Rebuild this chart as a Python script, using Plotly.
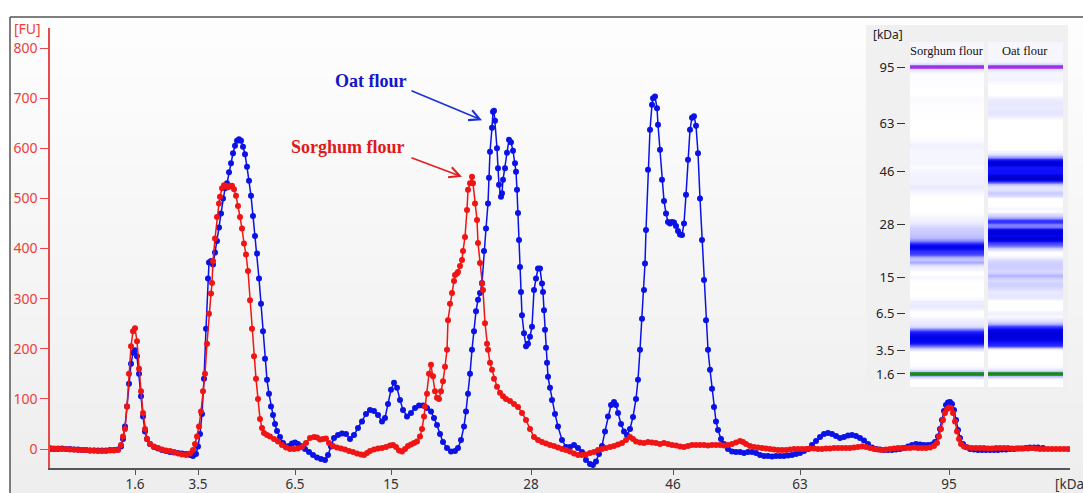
import plotly.graph_objects as go

# size markers on the kDa scale and their positions along the migration axis
kda_labels = ["1.6", "3.5", "6.5", "15", "28", "46", "63", "95"]
kda_pos = [135, 198, 295, 391, 531, 673, 800, 949]

# electropherogram readings: (migration position, fluorescence units)
oat = [
    (50, 0), (54, 0), (58, 0), (62, 1), (66, 0), (70, 0), (74, -1), (78, -1), (82, -2), (86, -2),
    (90, -3), (94, -3), (98, -3), (102, -3), (106, -3), (110, -2), (114, -2), (118, -1),
    (121, 5), (123, 20), (125, 45), (127, 85), (129, 130), (131, 170), (133, 192), (135, 197),
    (137, 185), (139, 150), (141, 105), (143, 65), (145, 35), (147, 20), (150, 10), (154, 4),
    (158, 1), (162, -2), (166, -4), (170, -6), (174, -7), (178, -8), (182, -9), (186, -10),
    (190, -12), (193, -14), (196, -10), (198, 5), (200, 30), (202, 70), (204, 140), (206, 240),
    (208, 340), (209, 372), (211, 375), (213, 368), (215, 392), (217, 415), (219, 442), (221, 470),
    (223, 500), (225, 520), (227, 530), (229, 552), (231, 570), (233, 590), (235, 605), (237, 615),
    (239, 618), (241, 615), (243, 603), (245, 588), (247, 563), (249, 535), (251, 505), (253, 465),
    (255, 425), (257, 390), (259, 340), (261, 290), (263, 235), (265, 180), (267, 138), (269, 110),
    (271, 85), (273, 68), (275, 50), (277, 36), (280, 24), (283, 12), (286, 5), (289, 6), (292, 11),
    (295, 13), (298, 10), (301, 6), (305, 0), (309, -6), (313, -12), (317, -17), (321, -20),
    (325, -22), (328, -12), (331, 5), (334, 22), (338, 28), (342, 31), (346, 30), (350, 20),
    (354, 28), (358, 42), (362, 55), (366, 70), (370, 78), (374, 76), (378, 68), (382, 55),
    (385, 62), (388, 90), (391, 118), (394, 132), (397, 122), (400, 98), (403, 78), (407, 65),
    (411, 72), (415, 82), (419, 87), (423, 87), (427, 82), (431, 75), (434, 62), (437, 48),
    (440, 30), (443, 14), (447, 2), (451, -5), (455, -4), (458, 2), (461, 18), (464, 45), (466, 75),
    (468, 110), (470, 150), (472, 198), (474, 235), (476, 275), (478, 298), (480, 311), (482, 331),
    (484, 395), (486, 440), (488, 490), (489, 541), (490, 593), (492, 641), (493, 673), (494, 675),
    (495, 655), (497, 600), (498, 560), (499, 527), (501, 503), (502, 510), (503, 537), (505, 560),
    (507, 591), (509, 617), (511, 612), (513, 595), (515, 570), (516, 553), (517, 517), (518, 471),
    (519, 417), (520, 363), (521, 313), (522, 267), (524, 231), (526, 205), (528, 210), (530, 224),
    (532, 244), (534, 317), (536, 340), (538, 360), (540, 360), (542, 330), (543, 313), (544, 277),
    (545, 238), (546, 202), (547, 172), (548, 144), (550, 122), (552, 98), (555, 70), (558, 45),
    (562, 18), (566, 4), (570, 4), (574, 8), (578, 2), (582, -6), (586, -22), (590, -30), (593, -32),
    (596, -25), (599, -10), (602, 6), (605, 35), (608, 65), (611, 88), (614, 94), (616, 88),
    (618, 72), (621, 50), (624, 35), (627, 28), (630, 40), (633, 64), (636, 100), (638, 138),
    (640, 198), (642, 260), (644, 317), (645, 370), (646, 437), (648, 557), (650, 637), (652, 687),
    (653, 700), (655, 703), (657, 680), (658, 647), (660, 597), (662, 537), (664, 495), (666, 470),
    (668, 453), (670, 450), (672, 453), (674, 452), (676, 445), (678, 435), (680, 428), (682, 427),
    (684, 450), (686, 507), (688, 577), (690, 637), (692, 661), (694, 664), (696, 645), (698, 590),
    (700, 500), (702, 417), (704, 337), (706, 257), (708, 198), (710, 158), (712, 120), (714, 84),
    (716, 55), (718, 38), (721, 20), (724, 10), (728, 0), (732, -5), (736, -6), (740, -6), (744, -8),
    (748, -6), (752, -6), (756, -8), (760, -12), (764, -14), (768, -14), (772, -15), (776, -14),
    (780, -14), (784, -14), (788, -13), (792, -12), (796, -10), (800, -8), (804, -4), (808, 0),
    (812, 8), (816, 16), (820, 24), (824, 30), (828, 32), (832, 30), (836, 26), (840, 22), (844, 24),
    (848, 27), (852, 28), (856, 26), (860, 22), (864, 17), (868, 10), (872, 3), (876, 0), (880, -1),
    (884, -2), (888, -2), (892, -2), (896, -1), (900, 0), (904, 2), (908, 5), (912, 8), (916, 10),
    (920, 9), (924, 8), (928, 8), (932, 9), (935, 14), (938, 25), (940, 40), (942, 58), (944, 76),
    (946, 88), (948, 93), (950, 94), (952, 90), (954, 78), (956, 58), (958, 38), (960, 22), (963, 10),
    (966, 4), (970, 0), (974, -1), (978, -2), (982, -2), (986, -2), (990, -2), (994, -2), (998, -2),
    (1002, -1), (1006, -1), (1010, 0), (1014, 0), (1018, 1), (1022, 1), (1026, 2), (1030, 3),
    (1034, 3), (1038, 3), (1043, 2),
]

sorghum = [
    (50, 2), (54, 1), (58, 1), (62, 0), (66, 0), (70, -1), (74, -1), (78, -2), (82, -2), (86, -2),
    (90, -3), (94, -3), (98, -4), (102, -4), (106, -4), (110, -3), (114, -3), (118, -2),
    (121, 8), (123, 25), (125, 40), (127, 85), (129, 150), (131, 205), (133, 235), (135, 241),
    (137, 215), (139, 160), (141, 115), (143, 72), (145, 40), (147, 20), (150, 10), (154, 5),
    (158, 2), (162, -1), (166, -3), (170, -4), (174, -6), (178, -9), (182, -11), (186, -12),
    (190, -9), (193, -2), (195, 10), (197, 25), (199, 45), (201, 75), (203, 115), (205, 150),
    (207, 210), (209, 270), (211, 310), (212, 331), (213, 375), (215, 420), (217, 463), (219, 490),
    (220, 503), (222, 520), (224, 526), (226, 525), (228, 522), (230, 524), (232, 525), (234, 518),
    (236, 505), (238, 485), (240, 463), (242, 440), (244, 410), (246, 388), (248, 355), (250, 297),
    (252, 240), (254, 185), (256, 140), (258, 100), (260, 60), (262, 42), (264, 32), (267, 28),
    (270, 25), (274, 20), (278, 15), (282, 8), (286, 3), (290, 0), (294, 0), (298, 1), (302, 4),
    (306, 12), (310, 22), (314, 24), (317, 23), (320, 19), (323, 20), (326, 21), (329, 12), (333, 6),
    (337, 3), (341, 1), (345, -1), (349, -4), (353, -6), (357, -9), (361, -11), (364, -12),
    (367, -8), (370, -4), (374, -1), (378, 1), (382, 2), (386, 4), (390, 7), (393, 8), (396, 4),
    (399, -3), (402, -5), (405, 0), (408, 6), (411, 9), (414, 12), (417, 15), (420, 25), (422, 40),
    (424, 65), (425, 85), (427, 110), (429, 150), (431, 168), (433, 145), (435, 115), (437, 102),
    (439, 100), (441, 115), (443, 135), (445, 164), (447, 198), (448, 257), (450, 290), (452, 311),
    (454, 335), (455, 347), (457, 350), (458, 353), (460, 365), (462, 377), (463, 395), (465, 423),
    (467, 477), (468, 517), (470, 530), (472, 543), (473, 530), (475, 490), (477, 457), (478, 411),
    (480, 371), (482, 330), (483, 317), (485, 251), (487, 210), (488, 198), (490, 172), (492, 158),
    (494, 140), (497, 124), (500, 112), (503, 105), (506, 100), (510, 96), (514, 90), (518, 84),
    (522, 72), (526, 58), (530, 40), (534, 24), (538, 18), (542, 14), (546, 11), (550, 8), (554, 6),
    (558, 3), (562, 0), (566, -2), (570, -5), (574, -9), (578, -12), (582, -12), (586, -11),
    (590, -8), (594, -6), (598, -2), (602, 0), (606, 2), (610, 4), (614, 6), (618, 9), (622, 12),
    (626, 18), (630, 24), (633, 20), (636, 15), (640, 13), (644, 12), (648, 14), (652, 13),
    (656, 12), (660, 10), (664, 12), (668, 10), (672, 8), (676, 7), (680, 5), (684, 4), (688, 6),
    (692, 8), (696, 8), (700, 8), (704, 8), (708, 7), (712, 8), (716, 8), (720, 8), (724, 7),
    (728, 8), (732, 10), (736, 13), (740, 16), (743, 14), (746, 10), (750, 6), (754, 4), (758, 3),
    (762, 2), (766, 1), (770, 0), (774, -1), (778, -2), (782, -2), (786, -2), (790, -1), (794, 0),
    (798, 0), (802, 0), (806, 0), (810, 1), (814, 1), (818, 0), (822, 0), (826, 1), (830, 1),
    (834, 2), (838, 2), (842, 2), (846, 2), (850, 2), (854, 3), (858, 4), (862, 5), (866, 4),
    (870, 2), (874, 0), (878, -1), (882, -2), (886, -1), (890, 0), (894, 1), (898, 2), (902, 2),
    (906, 2), (910, 2), (914, 3), (918, 2), (922, 2), (926, 2), (930, 3), (934, 6), (937, 12),
    (939, 25), (941, 40), (943, 58), (945, 72), (947, 80), (949, 83), (951, 82), (953, 72), (955, 55),
    (957, 35), (959, 20), (961, 10), (964, 5), (968, 3), (972, 2), (976, 2), (980, 2), (984, 2),
    (988, 1), (992, 1), (996, 2), (1000, 2), (1004, 2), (1008, 2), (1012, 1), (1016, 1), (1020, 1),
    (1024, 1), (1028, 1), (1032, 2), (1036, 1), (1040, 0), (1044, 0), (1048, 0), (1052, 0),
    (1056, 0), (1060, 0), (1064, 0), (1068, 0),
]

oat_pos = [p for p, v in oat]
oat_fu = [v for p, v in oat]
sorghum_pos = [p for p, v in sorghum]
sorghum_fu = [v for p, v in sorghum]

BLUE = "#0a12e6"
RED = "#f01414"

# page geometry (margins l=50 r=13 t=28 b=25 on 1083x493)
W, H = 1083, 493
ML, MR, MT, MB = 50, 13, 28, 25
PW, PH = W - ML - MR, H - MT - MB


def px(x):
    return (x - ML) / PW


def py(y):
    return (H - MB - y) / PH


gel_scale = [
    [0.0, "#ffffff"], [0.014, "#f4f4ff"], [0.043, "#e6e6ff"], [0.143, "#c8c8ff"],
    [0.243, "#9c9cff"], [0.43, "#4c4cff"], [0.6, "#1414ff"], [0.79, "#0000e6"], [1.0, "#0000c8"],
]

fig = go.Figure()

fig.add_trace(go.Scatter(
    x=oat_pos, y=oat_fu, mode="lines+markers", name="Oat flour",
    line=dict(color=BLUE, width=1.5), marker=dict(size=6, color=BLUE), hoverinfo="skip",
))
fig.add_trace(go.Scatter(
    x=sorghum_pos, y=sorghum_fu, mode="lines+markers", name="Sorghum flour",
    line=dict(color=RED, width=1.5), marker=dict(size=6, color=RED), hoverinfo="skip",
))

# virtual gel lanes
for xa, pos, fu in [("x2", sorghum_pos, sorghum_fu), ("x3", oat_pos, oat_fu)]:
    fig.add_trace(go.Heatmap(
        z=[[max(v, 0)] for v in fu], y=pos, x=[0], xaxis=xa, yaxis="y2",
        colorscale=gel_scale, zmin=0, zmax=700, showscale=False, hoverinfo="skip",
    ))
    fig.add_trace(go.Scatter(
        x=[-0.5, 0.5], y=[kda_pos[-1]] * 2, xaxis=xa, yaxis="y2", mode="lines",
        line=dict(color="#a032e6", width=3.5), hoverinfo="skip",
    ))
    fig.add_trace(go.Scatter(
        x=[-0.5, 0.5], y=[kda_pos[0]] * 2, xaxis=xa, yaxis="y2", mode="lines",
        line=dict(color="#148c14", width=3.5), hoverinfo="skip",
    ))

shapes = []
# soft vertical gradient behind the frame
n = 16
for i in range(n):
    y0 = 17 + (H - 17) * i / n
    y1 = 17 + (H - 17) * (i + 1) / n + 1
    g = round(253 - 15 * i / (n - 1))
    shapes.append(dict(type="rect", xref="paper", yref="paper", x0=px(10), x1=px(W + 5),
                       y0=py(y0), y1=py(y1), fillcolor=f"rgb({g},{g},{g})",
                       line=dict(width=0), layer="below"))
shapes.append(dict(type="line", xref="paper", yref="paper", x0=px(10), x1=px(10),
                   y0=py(17), y1=py(H + 5), line=dict(color="#555555", width=1.5), layer="below"))
shapes.append(dict(type="line", xref="paper", yref="paper", x0=px(10), x1=px(W + 5),
                   y0=py(17), y1=py(17), line=dict(color="#555555", width=1.5), layer="below"))
# gel panel and lane headers
shapes.append(dict(type="rect", xref="paper", yref="paper", x0=px(866), x1=px(1068),
                   y0=py(390), y1=py(25), fillcolor="#f0f0f0", line=dict(width=0), layer="below"))
for a, b in [(910, 984), (988, 1063)]:
    shapes.append(dict(type="rect", xref="paper", yref="paper", x0=px(a), x1=px(b),
                       y0=py(62), y1=py(42), fillcolor="#f6f6fc", line=dict(width=0), layer="below"))

annotations = [
    dict(text="[FU]", xref="paper", yref="paper", x=px(12), y=py(28), xanchor="left",
         yanchor="middle", showarrow=False, font=dict(size=14, color="#f03c3c", family="Noto Sans")),
    dict(text="[kDa", xref="paper", yref="paper", x=px(1053), y=py(484), xanchor="left",
         yanchor="middle", showarrow=False, font=dict(size=13.5, color="#333333", family="Noto Sans")),
    dict(text="[kDa]", xref="paper", yref="paper", x=px(871), y=py(35), xanchor="left",
         yanchor="middle", showarrow=False, font=dict(size=12, color="#222222", family="Noto Sans")),
    dict(text="Sorghum flour", xref="paper", yref="paper", x=px(947), y=py(51), xanchor="center",
         yanchor="middle", showarrow=False, font=dict(size=12.5, color="#111111", family="Liberation Serif")),
    dict(text="Oat flour", xref="paper", yref="paper", x=px(1025), y=py(51), xanchor="center",
         yanchor="middle", showarrow=False, font=dict(size=12.5, color="#111111", family="Liberation Serif")),
    dict(text="<b>Oat flour</b>", x=371, y=734, xref="x", yref="y", showarrow=False,
         font=dict(size=18, color="#1414c8", family="Liberation Serif")),
    dict(text="<b>Sorghum flour</b>", x=348, y=602, xref="x", yref="y", showarrow=False,
         font=dict(size=18, color="#e01a1a", family="Liberation Serif")),
    dict(text="", x=482, y=656, ax=410, ay=716, xref="x", yref="y", axref="x", ayref="y",
         showarrow=True, arrowhead=5, arrowsize=1.3, arrowwidth=1.6, arrowcolor="#1a30d8"),
    dict(text="", x=462, y=543, ax=410, ay=582, xref="x", yref="y", axref="x", ayref="y",
         showarrow=True, arrowhead=5, arrowsize=1.3, arrowwidth=1.6, arrowcolor="#e02020"),
]

fig.update_layout(
    width=W, height=H,
    margin=dict(l=ML, r=MR, t=MT, b=MB, autoexpand=False),
    paper_bgcolor="white",
    plot_bgcolor="rgba(0,0,0,0)",
    showlegend=False,
    font=dict(family="Noto Sans"),
    xaxis=dict(
        range=[50, 1070], tickvals=kda_pos, ticktext=kda_labels, automargin=False,
        showline=True, linecolor="#555555", linewidth=1.5,
        ticks="outside", ticklen=5, tickcolor="#555555", ticklabelstandoff=-2,
        tickfont=dict(size=13.5, color="#333333", family="Noto Sans"),
        showgrid=False, zeroline=False,
    ),
    yaxis=dict(
        range=[-37.9, 839.9], tick0=0, dtick=100, automargin=False,
        showline=True, linecolor="#e84a4a", linewidth=1.5,
        ticks="outside", ticklen=8, tickcolor="#e84a4a",
        tickfont=dict(size=14, color="#f03c3c", family="Noto Sans"),
        showgrid=False, zeroline=False,
    ),
    xaxis2=dict(domain=[px(910), px(984)], range=[-0.5, 0.5], visible=False, anchor="y2",
                automargin=False),
    xaxis3=dict(domain=[px(988), px(1063)], range=[-0.5, 0.5], visible=False, anchor="y2",
                automargin=False),
    yaxis2=dict(
        domain=[py(387), py(62)], range=[100.5, 962.3], anchor="free", position=px(905),
        tickvals=kda_pos, ticktext=kda_labels, ticks="outside", ticklen=8, tickcolor="#333333",
        tickfont=dict(size=13, color="#222222", family="Noto Sans"), automargin=False,
        showgrid=False, zeroline=False, showline=False,
    ),
    shapes=shapes,
    annotations=annotations,
)

# drop the browser's default page margin so the figure sits at the window origin
fig.write_html(
    "out.html",
    config={"displayModeBar": False},
    post_script="document.body.style.margin='0';document.body.style.overflow='hidden';",
)
